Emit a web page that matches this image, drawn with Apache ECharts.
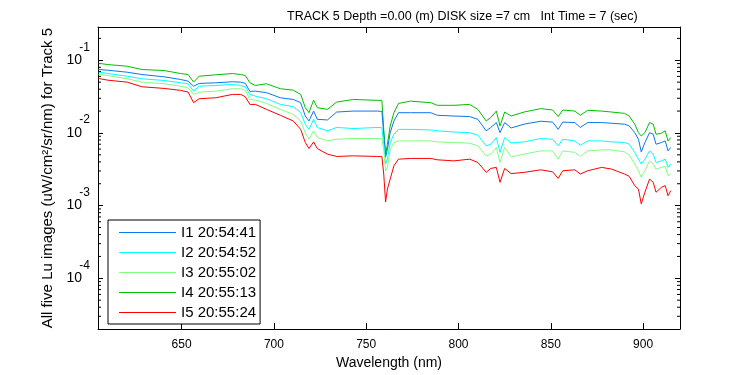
<!DOCTYPE html>
<html>
<head>
<meta charset="utf-8">
<script src="https://cdn.jsdelivr.net/npm/echarts@6/dist/echarts.min.js"></script>
<style>
html, body { margin: 0; padding: 0; background: #fff; }
#chart { width: 750px; height: 375px; }
</style>
</head>
<body>
<div id="chart"></div>
<script>
// wavelengths (nm) where the five spectra were read
const wavelength = [605, 610, 620.5, 628.5, 640.5, 649.5, 653.5, 656.5, 659.5, 668.5,
  677.5, 682, 684.5, 687, 690, 696, 703.5, 710.5, 714.5, 717,
  719, 721.5, 723.5, 729, 734, 743, 756, 758.5, 759.5, 760.5,
  761.5, 763, 765, 767.5, 774, 785, 788.5, 797.5, 806, 810.5,
  815, 817.5, 820.5, 822.5, 825, 828.5, 835.5, 844.5, 851, 854,
  856.5, 863, 866, 870, 877.5, 883, 890, 892.5, 895.5, 897.5,
  899, 901, 903.5, 905.5, 907, 910, 912, 913.5, 915];

const i1 = [0.0746, 0.0730, 0.0685, 0.0637, 0.0592, 0.0544, 0.0516, 0.0440, 0.0480, 0.0490,
  0.0506, 0.0500, 0.0480, 0.0373, 0.0376, 0.0358, 0.0305, 0.0289, 0.0261, 0.0171,
  0.0146, 0.0200, 0.0154, 0.0151, 0.0194, 0.0200, 0.0200, 0.0198, 0.00960, 0.00465,
  0.00598, 0.0101, 0.0146, 0.0190, 0.0190, 0.0190, 0.0175, 0.0171, 0.0168, 0.0154,
  0.0107, 0.0119, 0.0139, 0.0101, 0.0139, 0.0117, 0.0132, 0.0145, 0.0141, 0.0112,
  0.0141, 0.0139, 0.0119, 0.0139, 0.0139, 0.0136, 0.0132, 0.0125, 0.0101, 0.00820,
  0.00549, 0.00739, 0.0101, 0.00960, 0.00700, 0.00739, 0.00777, 0.00567, 0.00631];

const i2 = [0.0685, 0.0657, 0.0604, 0.0556, 0.0527, 0.0490, 0.0475, 0.0376, 0.0440, 0.0450,
  0.0465, 0.0450, 0.0432, 0.0339, 0.0321, 0.0296, 0.0247, 0.0230, 0.0190, 0.0132,
  0.0112, 0.0154, 0.0119, 0.0107, 0.0119, 0.0115, 0.0119, 0.0118, 0.00700, 0.00373,
  0.00436, 0.00739, 0.00960, 0.0112, 0.0112, 0.0110, 0.0107, 0.0103, 0.0101, 0.00930,
  0.00664, 0.00700, 0.00865, 0.00539, 0.00865, 0.00730, 0.00753, 0.00838, 0.00820, 0.00664,
  0.00820, 0.00777, 0.00679, 0.00777, 0.00777, 0.00753, 0.00739, 0.00700, 0.00539, 0.00436,
  0.00373, 0.00436, 0.00567, 0.00511, 0.00393, 0.00413, 0.00436, 0.00336, 0.00373];

const i3 = [0.0637, 0.0617, 0.0556, 0.0500, 0.0475, 0.0440, 0.0419, 0.0339, 0.0365, 0.0376,
  0.0406, 0.0406, 0.0385, 0.0289, 0.0283, 0.0255, 0.0211, 0.0180, 0.0146, 0.0101,
  0.00820, 0.0107, 0.00865, 0.00777, 0.00820, 0.00838, 0.00838, 0.00833, 0.00598, 0.00299,
  0.00339, 0.00598, 0.00739, 0.00777, 0.00777, 0.00777, 0.00753, 0.00739, 0.00723, 0.00664,
  0.00484, 0.00511, 0.00631, 0.00393, 0.00631, 0.00469, 0.00511, 0.00567, 0.00567, 0.00436,
  0.00567, 0.00539, 0.00475, 0.00567, 0.00585, 0.00585, 0.00549, 0.00495, 0.00373, 0.00302,
  0.00245, 0.00302, 0.00413, 0.00373, 0.00318, 0.00336, 0.00347, 0.00258, 0.00272];

const i4 = [0.0910, 0.0873, 0.0828, 0.0746, 0.0723, 0.0657, 0.0637, 0.0500, 0.0604, 0.0631,
  0.0657, 0.0637, 0.0617, 0.0490, 0.0450, 0.0475, 0.0406, 0.0388, 0.0339, 0.0223,
  0.0190, 0.0283, 0.0223, 0.0211, 0.0266, 0.0289, 0.0281, 0.0281, 0.0112, 0.00511,
  0.00700, 0.0125, 0.0190, 0.0255, 0.0274, 0.0261, 0.0240, 0.0240, 0.0247, 0.0211,
  0.0146, 0.0163, 0.0200, 0.0125, 0.0194, 0.0171, 0.0194, 0.0216, 0.0207, 0.0168,
  0.0207, 0.0200, 0.0175, 0.0205, 0.0200, 0.0194, 0.0186, 0.0171, 0.0132, 0.0101,
  0.00910, 0.0101, 0.0139, 0.0132, 0.00960, 0.00991, 0.0107, 0.00777, 0.00865];

const i5 = [0.0562, 0.0532, 0.0500, 0.0432, 0.0410, 0.0385, 0.0365, 0.0261, 0.0296, 0.0305,
  0.0339, 0.0339, 0.0315, 0.0247, 0.0247, 0.0211, 0.0175, 0.0146, 0.0112, 0.00739,
  0.00611, 0.00753, 0.00611, 0.00511, 0.00475, 0.00484, 0.00475, 0.00472, 0.00272, 0.00112,
  0.00169, 0.00232, 0.00353, 0.00436, 0.00446, 0.00446, 0.00427, 0.00413, 0.00436, 0.00393,
  0.00287, 0.00325, 0.00336, 0.00209, 0.00325, 0.00276, 0.00287, 0.00311, 0.00292, 0.00237,
  0.00302, 0.00311, 0.00272, 0.00302, 0.00336, 0.00318, 0.00272, 0.00253, 0.00188, 0.00169,
  0.00106, 0.00153, 0.00232, 0.00209, 0.00153, 0.00179, 0.00188, 0.00137, 0.00161];

const names = ['I1 20:54:41', 'I2 20:54:52', 'I3 20:55:02', 'I4 20:55:13', 'I5 20:55:24'];
const spectra = [i1, i2, i3, i4, i5];
const colors = ['#0a78f0', '#00ffff', '#80ff80', '#00c000', '#ff0000'];

// log axis minor ticks: 2..9 in each decade
const decades = [-5, -4, -3, -2, -1];
const mantissas = [2, 3, 4, 5, 6, 7, 8, 9];

const xMin = 604.7, xMax = 920;
const yMin = 2e-5, yMax = 0.287;
const font = 'Liberation Sans, Arial, sans-serif';

const minorVals = [];
decades.forEach(d => mantissas.forEach(m => {
  const v = m * Math.pow(10, d);
  if (v > yMin && v < yMax) minorVals.push([xMin, v]);
}));

const chart = echarts.init(document.getElementById('chart'));

const series = spectra.map((vals, k) => ({
  name: names[k],
  type: 'line',
  symbol: 'none',
  data: wavelength.map((w, j) => [w, vals[j]]),
  lineStyle: { color: colors[k], width: 1 },
  itemStyle: { color: colors[k] },
  z: 3 + (k === 3 ? 0 : 1)
}));

series.push({
  type: 'custom',
  silent: true,
  xAxisIndex: 0,
  yAxisIndex: 0,
  data: minorVals,
  renderItem: function (params, api) {
    const cs = params.coordSys;
    const y = api.coord([api.value(0), api.value(1)])[1];
    return {
      type: 'group',
      children: [
        { type: 'line', shape: { x1: cs.x, y1: y, x2: cs.x + 3, y2: y }, style: { stroke: '#000', lineWidth: 1 } },
        { type: 'line', shape: { x1: cs.x + cs.width - 3, y1: y, x2: cs.x + cs.width, y2: y }, style: { stroke: '#000', lineWidth: 1 } }
      ]
    };
  }
});

const option = {
  animation: false,
  backgroundColor: '#fff',
  textStyle: { fontFamily: font },
  title: {
    text: 'TRACK 5 Depth =0.00 (m) DISK size =7 cm   Int Time = 7 (sec)',
    left: 282,
    top: 5,
    textStyle: { fontFamily: font, fontSize: 12.5, fontWeight: 'normal', color: '#000' }
  },
  grid: { left: 98, right: 70, top: 27, bottom: 44 },
  legend: {
    data: names.map(n => ({ name: n, icon: 'rect' })),
    orient: 'vertical',
    left: 108,
    top: 220,
    itemWidth: 57,
    itemHeight: 1,
    itemGap: 5,
    padding: [5, 4, 4, 11],
    borderColor: '#000',
    borderWidth: 1,
    backgroundColor: '#fff',
    borderRadius: 0,
    textStyle: { fontFamily: font, fontSize: 15, lineHeight: 14, color: '#000' }
  },
  xAxis: [{
    type: 'value',
    min: xMin,
    max: xMax,
    name: 'Wavelength (nm)',
    nameLocation: 'middle',
    nameGap: 22,
    nameTextStyle: { fontFamily: font, fontSize: 14, color: '#000' },
    axisLine: { lineStyle: { color: '#000', width: 1 } },
    axisTick: { inside: true, length: 6, lineStyle: { color: '#000' } },
    axisLabel: { showMinLabel: false, showMaxLabel: false, margin: 10, fontFamily: font, fontSize: 12, color: '#000' },
    splitLine: { show: false }
  }, {
    type: 'value',
    position: 'top',
    min: xMin,
    max: xMax,
    axisLine: { lineStyle: { color: '#000', width: 1 } },
    axisTick: { inside: true, length: 6, lineStyle: { color: '#000' } },
    axisLabel: { show: false },
    splitLine: { show: false }
  }],
  yAxis: [{
    type: 'log',
    logBase: 10,
    min: yMin,
    max: yMax,
    name: 'All five Lu images (uW/cm\u00b2/sr/nm) for Track 5',
    nameLocation: 'middle',
    nameGap: 41,
    nameRotate: 90,
    nameTextStyle: { fontFamily: font, fontSize: 15, color: '#000' },
    axisLine: { show: true, lineStyle: { color: '#000', width: 1 } },
    axisTick: { inside: true, length: 5, lineStyle: { color: '#000' } },
    axisLabel: {
      showMinLabel: false, showMaxLabel: false, margin: 16,
      fontFamily: font, fontSize: 14, color: '#000',
      formatter: () => '10'
    },
    splitLine: { show: false }
  }, {
    type: 'log',
    logBase: 10,
    min: yMin,
    max: yMax,
    position: 'left',
    axisLine: { show: false },
    axisTick: { show: false },
    axisLabel: {
      showMinLabel: false, showMaxLabel: false, margin: 8,
      fontFamily: font, fontSize: 12, color: '#000',
      verticalAlign: 'bottom', lineHeight: 26,
      formatter: v => String(Math.round(Math.log10(v)))
    },
    splitLine: { show: false }
  }, {
    type: 'log',
    logBase: 10,
    min: yMin,
    max: yMax,
    position: 'right',
    axisLine: { show: true, lineStyle: { color: '#000', width: 1 } },
    axisTick: { inside: true, length: 5, lineStyle: { color: '#000' } },
    axisLabel: { show: false },
    splitLine: { show: false }
  }],
  series: series
};

chart.setOption(option);
</script>
</body>
</html>
